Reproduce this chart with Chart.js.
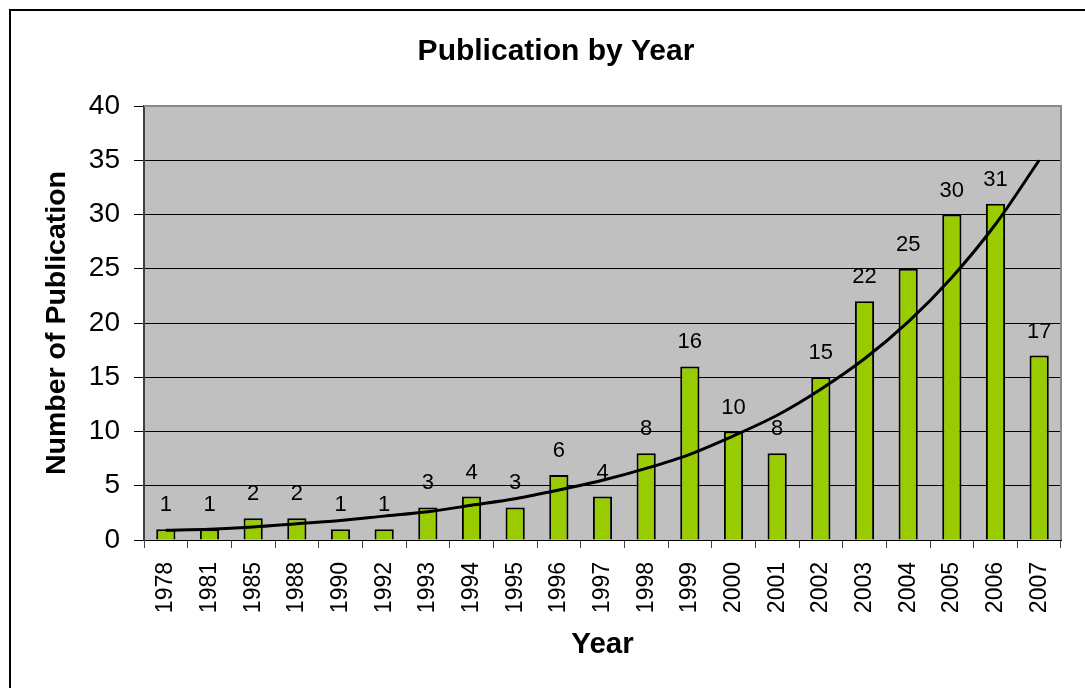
<!DOCTYPE html>
<html>
<head>
<meta charset="utf-8">
<script src="https://cdn.jsdelivr.net/npm/chart.js@4.4.1/dist/chart.umd.min.js"></script>
<style>
html,body{margin:0;padding:0;background:#fff;}
canvas{display:block;}
</style>
</head>
<body>
<canvas id="c" width="1085" height="688"></canvas>
<script>
const years = ['1978','1981','1985','1988','1990','1992','1993','1994','1995','1996','1997','1998','1999','2000','2001','2002','2003','2004','2005','2006','2007'];
const publications = [1,1,2,2,1,1,3,4,3,6,4,8,16,10,8,15,22,25,30,31,17];
const trendline = [0.9,1.0,1.2,1.5,1.8,2.2,2.6,3.2,3.8,4.6,5.5,6.6,7.9,9.6,11.5,13.9,16.7,20.1,24.2,29.1,35.0];
const yTicks = [0,5,10,15,20,25,30,35,40];

const FONT = "'Liberation Sans', Arial, sans-serif";
Chart.defaults.font.family = FONT;
Chart.defaults.color = '#000';

const framePlugin = {
  id: 'frame',
  beforeDraw(chart) {
    const {ctx, chartArea: a} = chart;
    ctx.save();
    ctx.fillStyle = '#fff';
    ctx.fillRect(0, 0, chart.width, chart.height);
    ctx.fillStyle = '#C0C0C0';
    ctx.fillRect(a.left, a.top, a.right - a.left, a.bottom - a.top);
    ctx.lineWidth = 2;
    ctx.strokeStyle = '#000';
    ctx.strokeRect(10, 10, chart.width + 20, chart.height + 20);
    ctx.restore();
  },
  beforeDatasetsDraw(chart) {
    const {ctx, chartArea: a} = chart;
    ctx.save();
    ctx.strokeStyle = '#8a8a8a';
    ctx.lineWidth = 2;
    ctx.beginPath();
    ctx.moveTo(a.left, a.top);
    ctx.lineTo(a.right, a.top);
    ctx.lineTo(a.right, a.bottom);
    ctx.stroke();
    ctx.restore();
  }
};

const barLabels = {
  id: 'barLabels',
  afterDatasetsDraw(chart) {
    const {ctx} = chart;
    const meta = chart.getDatasetMeta(0);
    ctx.save();
    ctx.font = '22px ' + FONT;
    ctx.fillStyle = '#000';
    ctx.textAlign = 'center';
    ctx.textBaseline = 'alphabetic';
    meta.data.forEach((bar, i) => {
      ctx.fillText(String(publications[i]), bar.x, bar.y - 18);
    });
    ctx.restore();
  }
};

new Chart(document.getElementById('c'), {
  type: 'bar',
  data: {
    labels: years,
    datasets: [
      {
        type: 'bar',
        label: 'Publications',
        data: publications,
        backgroundColor: '#99CC00',
        borderColor: '#000',
        borderWidth: 2,
        barPercentage: 0.44,
        categoryPercentage: 1,
        order: 1
      },
      {
        type: 'line',
        label: 'Trend',
        data: trendline,
        borderColor: '#000',
        borderWidth: 3,
        pointRadius: 0,
        tension: 0.3,
        fill: false,
        order: 0
      }
    ]
  },
  options: {
    responsive: false,
    animation: false,
    layout: {padding: {top: 10, left: 51, right: 24, bottom: 0}},
    plugins: {
      legend: {display: false},
      tooltip: {enabled: false},
      title: {
        display: true,
        text: 'Publication by Year',
        color: '#000',
        font: {size: 30, weight: 'bold'},
        padding: {top: 24, bottom: 36}
      }
    },
    scales: {
      x: {
        offset: true,
        grid: {offset: true, drawOnChartArea: false, drawTicks: true, tickLength: 8, color: '#444', lineWidth: 1},
        border: {display: true, color: '#000', width: 1},
        ticks: {autoSkip: false, minRotation: 90, maxRotation: 90, padding: 14, color: '#000', font: {size: 23}},
        title: {display: true, text: 'Year', color: '#000', font: {size: 29.5, weight: 'bold'}, padding: {top: 0, bottom: 25}},
        afterFit: s => { s.height = 148; }
      },
      y: {
        min: 0,
        max: 40,
        afterBuildTicks: s => { s.ticks = yTicks.map(v => ({value: v})); },
        ticks: {padding: 14, color: '#000', font: {size: 28}},
        grid: {
          color: c => (c.tick && c.tick.value === 40) ? '#8a8a8a' : '#000',
          tickColor: '#000',
          lineWidth: 1,
          tickLength: 10,
          drawTicks: true
        },
        border: {display: true, color: '#404040', width: 2},
        title: {display: true, text: 'Number of Publication', color: '#000', font: {size: 28.5, weight: 'bold'}, padding: {top: -11, bottom: 0}},
        afterFit: s => { s.width = 93; }
      }
    }
  },
  plugins: [framePlugin, barLabels]
});
</script>
</body>
</html>
